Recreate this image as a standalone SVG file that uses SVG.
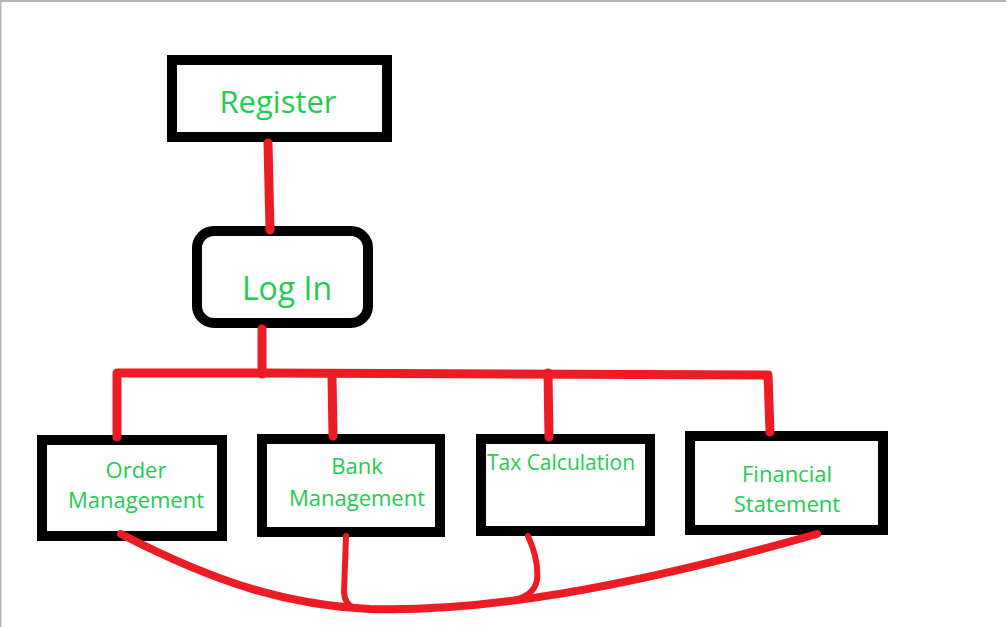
<svg xmlns="http://www.w3.org/2000/svg" width="1006" height="627" viewBox="0 0 1006 627">
<style>
.box{fill:#fff;stroke:#000;stroke-width:10}
.lbl{fill:#22CC4F;font-family:"Open Sans","Noto Sans",sans-serif;text-anchor:middle}
.con{fill:none;stroke:#ED1C24;stroke-linecap:round;stroke-linejoin:round}
</style>
<rect x="0" y="0" width="1006" height="627" fill="#fff"/>
<path d="M0.5,627 V1 H1006" fill="none" stroke="#B4B4B4" stroke-width="2"/>
<g id="register">
<rect class="box" x="172" y="60" width="215" height="77"/>
<text class="lbl" x="278" y="113" font-size="31">Register</text>
</g>
<g id="login">
<rect class="box" x="197" y="231" width="171" height="92" rx="17"/>
<text class="lbl" x="287" y="300" font-size="32">Log In</text>
</g>
<g id="order">
<rect class="box" x="42" y="440" width="180" height="96"/>
<text class="lbl" x="136" y="478" font-size="22">Order</text>
<text class="lbl" x="136" y="508" font-size="22">Management</text>
</g>
<g id="bank">
<rect class="box" x="262" y="439" width="178" height="93"/>
<text class="lbl" x="357" y="474" font-size="22">Bank</text>
<text class="lbl" x="357" y="506" font-size="22">Management</text>
</g>
<g id="tax">
<rect class="box" x="481" y="439" width="169" height="92"/>
<text class="lbl" x="561" y="470" font-size="21">Tax Calculation</text>
</g>
<g id="financial">
<rect class="box" x="690" y="436" width="193" height="94"/>
<text class="lbl" x="787" y="482" font-size="22">Financial</text>
<text class="lbl" x="787" y="512" font-size="22">Statement</text>
</g>
<g id="connectors">
<path class="con" stroke-width="9" d="M268,143 L270,230"/>
<path class="con" stroke-width="9" d="M262,329 L262,374"/>
<path class="con" stroke-width="9" d="M117,437 L117,373 L262,373 L768,375 L770,432"/>
<path class="con" stroke-width="9" d="M332,375 L333,436"/>
<path class="con" stroke-width="9" d="M548,373 L549,437"/>
<path class="con" stroke-width="8" d="M121,534 C220,585 290,605 370,609 C480,612 620,590 817,534"/>
<path class="con" stroke-width="6" d="M346,536 L344,592 Q345,607 358,609"/>
<path class="con" stroke-width="6" d="M528,536 Q539,560 537,580 Q534,598 505,602"/>
</g>
</svg>
